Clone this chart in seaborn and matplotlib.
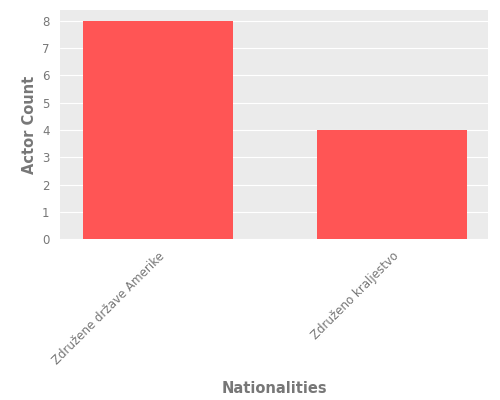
import matplotlib
matplotlib.use("Agg")
import matplotlib.pyplot as plt
import seaborn as sns
import pandas as pd

nationalities = ["Združene države Amerike", "Združeno kraljestvo"]
actor_counts = [8, 4]

df = pd.DataFrame({"Nationalities": nationalities, "Actor Count": actor_counts})

sns.set_style("darkgrid", {"axes.facecolor": "#EBEBEB", "grid.color": "white"})
plt.rcParams["font.family"] = ["DejaVu Sans"]

fig, ax = plt.subplots(figsize=(5, 4), dpi=100)
sns.barplot(data=df, x="Nationalities", y="Actor Count", color="#FF5555",
            saturation=1, width=0.64, linewidth=0, ax=ax)
ax.set_xlim(-0.42, 1.41)
ax.set_ylim(0, 8.4)
ax.set_yticks(range(0, 9))
ax.set_xlabel("Nationalities", fontsize=10.5, color="#777777", fontweight="bold", labelpad=10)
ax.set_ylabel("Actor Count", fontsize=10.5, color="#777777", fontweight="bold")
ax.tick_params(colors="#777777", labelsize=8.5, length=4)
plt.setp(ax.get_xticklabels(), rotation=45, ha="right", rotation_mode="anchor")
for s in ax.spines.values():
    s.set_visible(False)
fig.subplots_adjust(left=0.12, right=0.976, top=0.975, bottom=0.402)
fig.savefig("out.png")
